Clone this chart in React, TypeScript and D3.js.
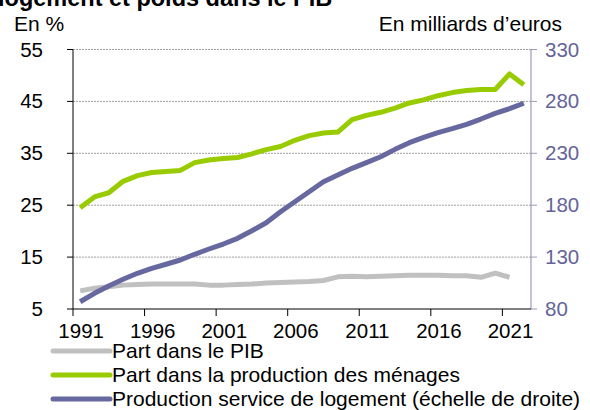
import React from 'react';
import * as d3 from 'd3';

// années 1991 -> 2022
const years = d3.range(1991, 2023);
const xTickYears = [1991, 1996, 2001, 2006, 2011, 2016, 2021];
const leftTicks = [5, 15, 25, 35, 45, 55];
const rightTicks = [80, 130, 180, 230, 280, 330];

// Part dans le PIB (%), 1991-2021
const partPib = [8.5, 9.0, 9.3, 9.6, 9.7, 9.8, 9.8, 9.8, 9.8, 9.6, 9.6, 9.7, 9.8, 10.0, 10.1, 10.2,
  10.3, 10.5, 11.2, 11.3, 11.2, 11.3, 11.4, 11.5, 11.5, 11.5, 11.4, 11.4, 11.1, 11.9, 11.1];
// Part dans la production des ménages (%), 1991-2022
const partMenages = [24.5, 26.6, 27.4, 29.6, 30.7, 31.3, 31.5, 31.7, 33.2, 33.7, 34.0, 34.2, 34.9, 35.7, 36.3,
  37.5, 38.4, 38.9, 39.1, 41.5, 42.3, 42.9, 43.7, 44.7, 45.3, 46.1, 46.7, 47.1, 47.3, 47.3, 50.3, 48.2];
// Production service de logement (Md€), 1991-2022
const production = [87.0, 95.1, 102.2, 108.6, 114.4, 119.2, 123.1, 127.2, 132.7, 137.8, 142.6, 148.1, 155.4,
  163.1, 173.7, 183.4, 193.0, 202.6, 209.1, 215.5, 221.0, 226.7, 233.8, 240.2, 245.4, 249.9, 253.7, 257.9,
  263.0, 268.5, 273.0, 278.2];

const FONT = 'Liberation Sans, Arial, sans-serif';
const GRAY = '#c0c0c0';
const GREEN = '#99cc00';
const PURPLE = '#6868a0';

export default function App() {
  const W = 590, H = 410;
  const left = 73, right = 531, top = 49.5, bottom = 309;

  const x = d3.scaleBand<number>().domain(years).range([left, right]).paddingInner(0).paddingOuter(0);
  const cx = (yr: number) => (x(yr) as number) + x.bandwidth() / 2;
  const yL = d3.scaleLinear().domain([5, 55]).range([bottom, top]);
  const yR = d3.scaleLinear().domain([80, 330]).range([bottom, top]);

  const lineL = d3.line<number>().x((_, i) => cx(years[i])).y(d => yL(d));
  const lineR = d3.line<number>().x((_, i) => cx(years[i])).y(d => yR(d));

  const legend = [
    { label: 'Part dans le PIB', color: GRAY },
    { label: 'Part dans la production des ménages', color: GREEN },
    { label: 'Production service de logement (échelle de droite)', color: PURPLE },
  ];

  return (
    <svg width={W} height={H} style={{ position: 'absolute', left: 0, top: 0 }} fontFamily={FONT}>
      <rect width={W} height={H} fill="#fff" />
      <text x={-2} y={6} fontSize={23.5} fontWeight="bold" fill="#000">logement et poids dans le PIB</text>
      <text x={14} y={31} fontSize={21} fill="#000">En %</text>
      <text x={562} y={31} fontSize={21} fill="#000" textAnchor="end">En milliards d’euros</text>

      {/* grille */}
      {leftTicks.slice(1).map(t => (
        <line key={t} x1={left} x2={right} y1={yL(t)} y2={yL(t)} stroke="#a0a0a0" strokeWidth={1} strokeDasharray="2,1" />
      ))}

      {/* axe gauche */}
      <line x1={left} x2={left} y1={top} y2={bottom} stroke="#000" strokeWidth={1} />
      {leftTicks.map(t => (
        <g key={t}>
          <line x1={left - 6} x2={left} y1={yL(t)} y2={yL(t)} stroke="#000" />
          <text x={43} y={yL(t) + 7} fontSize={20.5} textAnchor="end" fill="#000">{t}</text>
        </g>
      ))}

      {/* axe droit */}
      <line x1={right} x2={right} y1={top} y2={bottom} stroke="#9a9abf" strokeWidth={1.2} />
      {rightTicks.map(t => (
        <g key={t}>
          <line x1={right} x2={right + 6} y1={yR(t)} y2={yR(t)} stroke="#9a9abf" />
          <text x={545} y={yR(t) + 7} fontSize={20.5} fill="#64649a">{t}</text>
        </g>
      ))}

      {/* axe des x */}
      <line x1={left} x2={right} y1={bottom} y2={bottom} stroke="#000" strokeWidth={1} />
      {xTickYears.map(yr => (
        <g key={yr}>
          <line x1={x(yr) as number} x2={x(yr) as number} y1={bottom} y2={bottom + 7} stroke="#000" />
          <text x={cx(yr) + 1} y={338} fontSize={20.5} textAnchor="middle" fill="#000">{yr}</text>
        </g>
      ))}

      {/* séries */}
      <path d={lineL(partPib) || ''} fill="none" stroke={GRAY} strokeWidth={5} strokeLinejoin="round" />
      <path d={lineL(partMenages) || ''} fill="none" stroke={GREEN} strokeWidth={5} strokeLinejoin="round" />
      <path d={lineR(production) || ''} fill="none" stroke={PURPLE} strokeWidth={5} strokeLinejoin="round" />

      {/* légende */}
      {legend.map((l, i) => (
        <g key={l.label}>
          <line x1={53} x2={110} y1={351 + i * 24} y2={351 + i * 24} stroke={l.color} strokeWidth={5} strokeLinecap="round" />
          <text x={112} y={358 + i * 24} fontSize={21} fill="#000">{l.label}</text>
        </g>
      ))}
    </svg>
  );
}
